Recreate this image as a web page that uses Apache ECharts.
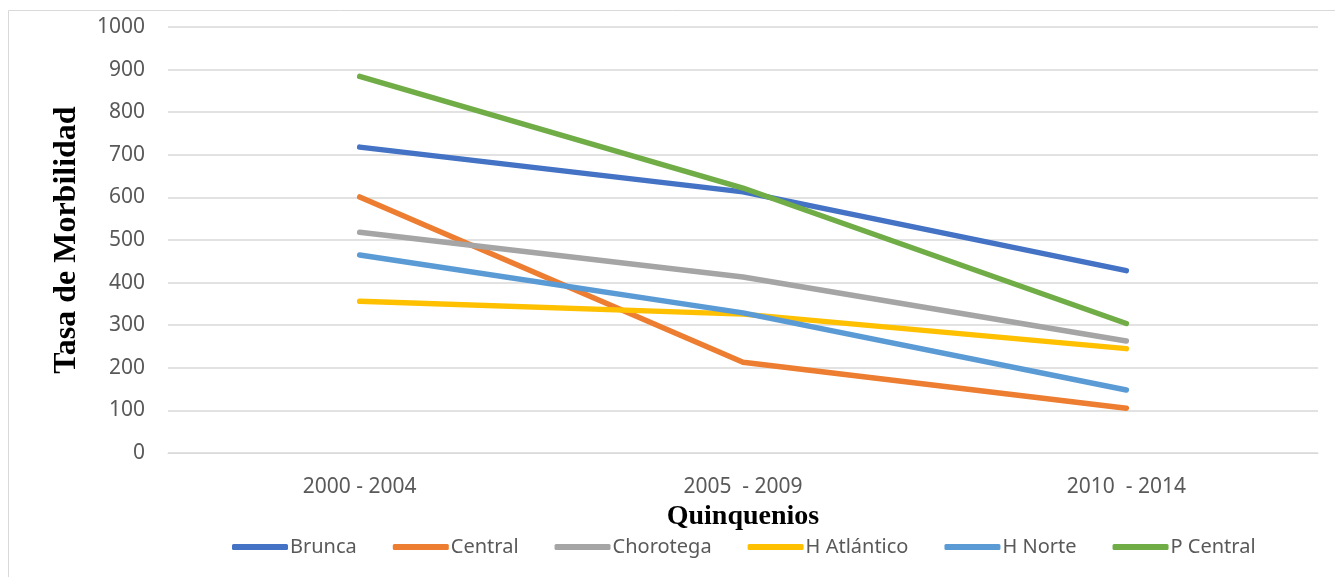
<!DOCTYPE html>
<html>
<head>
<meta charset="utf-8">
<script src="https://cdn.jsdelivr.net/npm/echarts@6/dist/echarts.min.js"></script>
<style>
  html, body { margin: 0; padding: 0; background: #fff; }
  #chart { width: 1335px; height: 577px; }
</style>
</head>
<body>
<div id="chart"></div>
<script>
  // categorías (quinquenios)
  const categories = ['2000 - 2004', '2005  - 2009', '2010  - 2014'];
  // tasa de morbilidad por región
  const brunca = [718, 613, 428];
  const central = [601, 213, 105];
  const chorotega = [518, 413, 263];
  const hAtlantico = [356, 326, 245];
  const hNorte = [465, 329, 148];
  const pCentral = [884, 622, 304];
  const yTicks = { min: 0, max: 1000, interval: 100 };

  const names = ['Brunca', 'Central', 'Chorotega', 'H Atlántico', 'H Norte', 'P Central'];
  const values = [brunca, central, chorotega, hAtlantico, hNorte, pCentral];
  const colors = ['#4472c4', '#ed7d31', '#a5a5a5', '#ffc000', '#5b9bd5', '#70ad47'];

  const chart = echarts.init(document.getElementById('chart'));
  chart.setOption({
    animation: false,
    color: colors,
    graphic: [{
      type: 'rect',
      shape: { x: 8.5, y: 10.5, width: 1340, height: 600 },
      style: { fill: 'none', stroke: '#d9d9d9', lineWidth: 1 },
      silent: true
    }],
    grid: { left: 168, right: 17, top: 27, bottom: 124 },
    legend: {
      data: names,
      top: 532,
      left: 227,
      itemWidth: 56,
      itemHeight: 6,
      itemGap: 36,
      icon: 'roundRect',
      textStyle: { fontFamily: 'Noto Sans', fontSize: 20, color: '#595959', padding: [0, 0, 0, -3] }
    },
    xAxis: {
      type: 'category',
      data: categories,
      name: 'Quinquenios',
      nameLocation: 'middle',
      nameGap: 49,
      nameTextStyle: { fontFamily: 'Liberation Serif', fontWeight: 'bold', fontSize: 28, color: '#000' },
      axisLine: { lineStyle: { color: '#d9d9d9' } },
      axisTick: { show: false },
      axisLabel: { margin: 24, fontFamily: 'Noto Sans', fontSize: 21, color: '#595959' }
    },
    yAxis: {
      type: 'value',
      min: yTicks.min,
      max: yTicks.max,
      interval: yTicks.interval,
      name: 'Tasa de Morbilidad',
      nameLocation: 'middle',
      nameGap: 85,
      nameTextStyle: { fontFamily: 'Liberation Serif', fontWeight: 'bold', fontSize: 32, color: '#000' },
      axisLine: { show: false },
      axisTick: { show: false },
      axisLabel: { margin: 23, fontFamily: 'Noto Sans', fontSize: 21, color: '#595959', formatter: v => String(v) },
      splitLine: { lineStyle: { color: '#d9d9d9', width: 1.5 } }
    },
    series: names.map((n, i) => ({
      name: n,
      type: 'line',
      data: values[i],
      symbol: 'none',
      lineStyle: { width: 5.5, cap: 'round', join: 'round' }
    }))
  });
</script>
</body>
</html>
